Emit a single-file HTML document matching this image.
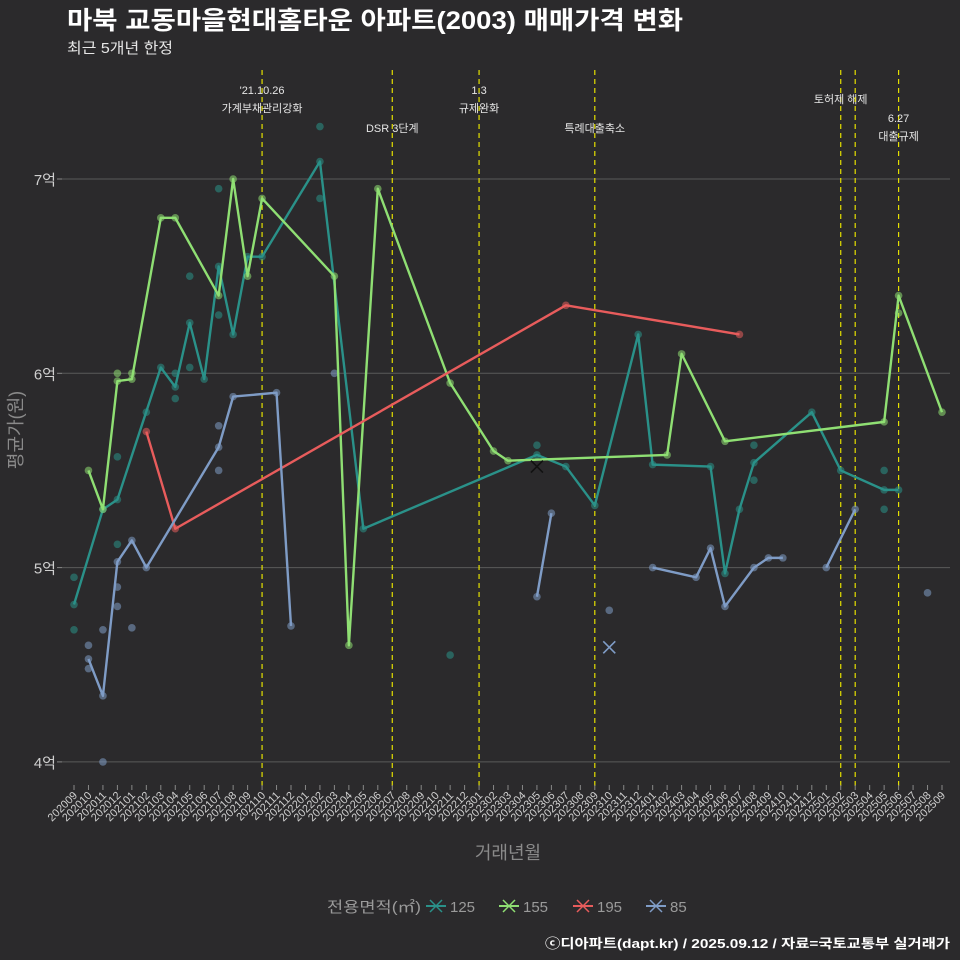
<!DOCTYPE html>
<html><head><meta charset="utf-8">
<style>
body{margin:0;background:#2b2a2c;}
svg{display:block;font-family:"Liberation Sans","Noto Sans CJK KR",sans-serif;}
</style></head>
<body>
<svg id="c" width="960" height="960" viewBox="0 0 960 960">
<rect width="960" height="960" fill="#2b2a2c"/>
<text x="67" y="29" fill="#ffffff" font-size="25" font-weight="bold" textLength="616" lengthAdjust="spacingAndGlyphs">마북 교동마을현대홈타운 아파트(2003) 매매가격 변화</text>
<text x="67" y="53" fill="#e6e6e6" font-size="15" textLength="106" lengthAdjust="spacingAndGlyphs">최근 5개년 한정</text>
<text x="950" y="948" fill="#ffffff" font-size="13" font-weight="bold" text-anchor="end" textLength="405" lengthAdjust="spacingAndGlyphs">ⓒ디아파트(dapt.kr) / 2025.09.12 / 자료=국토교통부 실거래가</text>
<text x="508" y="859" fill="#8a8a8a" font-size="18" text-anchor="middle">거래년월</text>
<text transform="translate(22,430) rotate(-90)" fill="#8a8a8a" font-size="18" text-anchor="middle">평균가(원)</text>
<g id="grid"></g><g id="vl"></g><g id="marks"></g><g id="xt"></g><g id="legend"></g>
</svg>
<script>
const months=[];for(let y=2020,m=9;!(y===2025&&m===10);){months.push(''+y+String(m).padStart(2,'0'));m++;if(m>12){m=1;y++;}}
const yTicks=[4,5,6,7];
const yTickLabels=['4억','5억','6억','7억'];
const s125=[[0,4.81],[2,5.30],[3,5.35],[6,6.03],[7,5.93],[8,6.26],[9,5.97],[10,6.55],[11,6.20],[12,6.60],[13,6.60],[17,7.09],[20,5.20],[32,5.58],[34,5.52],[36,5.32],[39,6.20],[40,5.53],[44,5.52],[45,4.97],[46,5.30],[47,5.54],[51,5.80],[53,5.50],[56,5.40],[57,5.40]];
const d125=[[0,4.95],[0,4.68],[3,5.12],[3,5.57],[5,5.80],[7,5.87],[7,6.0],[8,6.5],[8,6.03],[10,6.95],[10,6.30],[17,6.90],[17,7.27],[26,4.55],[32,5.63],[47,5.63],[47,5.45],[56,5.50],[56,5.30]];
const s155=[[1,5.50],[2,5.30],[3,5.96],[4,5.97],[6,6.80],[7,6.80],[10,6.40],[11,7.0],[12,6.5],[13,6.90],[18,6.5],[19,4.60],[21,6.95],[26,5.95],[29,5.60],[30,5.55],[41,5.58],[42,6.10],[45,5.65],[56,5.75],[57,6.40],[60,5.80]];
const d155=[[3,6.0],[4,6.0],[57,6.31]];
const s195=[[5,5.70],[7,5.20],[34,6.35],[46,6.20]];
const s85a=[[1,4.53],[2,4.34],[3,5.03],[4,5.14],[5,5.0],[10,5.62],[11,5.88],[14,5.90],[15,4.70]];
const s85b=[[32,4.85],[33,5.28]];
const s85c=[[40,5.0],[43,4.95],[44,5.10],[45,4.80],[47,5.0],[48,5.05],[49,5.05]];
const s85d=[[52,5.0],[54,5.30]];
const d85=[[1,4.60],[1,4.48],[2,4.68],[2,4.0],[3,4.90],[3,4.80],[4,4.69],[10,5.5],[10,5.73],[18,6.0],[37,4.78],[59,4.87]];
const xMarks=[[32,5.52,'#111'],[37,4.59,'#7f9cc6']];
const events=[[13,["'21.10.26","가계부채관리강화"],90],[22,["DSR 3단계"],128],[28,["1.3","규제완화"],90],[36,["특례대출축소"],128],[53,["토허제 해제"],99],[54,[],0],[57,["6.27","대출규제"],118]];
const C={125:'#2a9189',155:'#8fdf73',195:'#e85c5c',85:'#7f9cc6'};
const X=i=>74+i*868/60, Y=v=>179+(7-v)*194.3;
const NS='http://www.w3.org/2000/svg';
function el(t,a,p){const e=document.createElementNS(NS,t);for(const k in a)e.setAttribute(k,a[k]);document.getElementById(p).appendChild(e);return e;}
yTicks.forEach((v,k)=>{
 const g=el('line',{x1:62,x2:950,y1:Y(v),y2:Y(v),stroke:'#5a5a5a','stroke-width':1},'grid');
 
 
 const t=el('text',{x:56,y:Y(v)+6,fill:'#cfcfcf','font-size':15,'text-anchor':'end'},'grid');t.textContent=yTickLabels[k];
 
 
 el('line',{x1:57,x2:62,y1:Y(v),y2:Y(v),stroke:'#888'},'grid');
});
events.forEach(e=>{
 const l=el('line',{x1:X(e[0]),x2:X(e[0]),y1:70,y2:790,stroke:'#e5e000','stroke-width':1.2,'stroke-dasharray':'5,4'},'vl');
 
 
 e[1].forEach((s,j)=>{const t=el('text',{x:X(e[0]),y:e[2]+4+j*18,fill:'#e6e6e6','font-size':11,'text-anchor':'middle'},'vl');t.textContent=s;
 
 });
});
function dots(arr,col,nm){arr.forEach(p=>{const c=el('circle',{cx:X(p[0]),cy:Y(p[1]),r:3.8,fill:col,opacity:0.55},'marks');
 
 });}
function line(arr,col,nm){const l=el('polyline',{points:arr.map(p=>X(p[0])+','+Y(p[1])).join(' '),fill:'none',stroke:col,'stroke-width':2.4,'stroke-linejoin':'round'},'marks');
 
 
 dots(arr,col,nm+'-point');}
dots(d125,C[125],'dot-125');dots(d155,C[155],'dot-155');dots(d85,C[85],'dot-85');
line(s125,C[125],'line-125');line(s155,C[155],'line-155');line(s195,C[195],'line-195');
[s85a,s85b,s85c,s85d].forEach(s=>line(s,C[85],'line-85'));
xMarks.forEach(m=>{const x=X(m[0]),y=Y(m[1]);
 const p=el('path',{d:`M${x-6},${y-6}L${x+6},${y+6}M${x-6},${y+6}L${x+6},${y-6}`,stroke:m[2],'stroke-width':1.6},'marks');
 
 });
months.forEach((m,i)=>{
 el('line',{x1:X(i),x2:X(i),y1:785,y2:790,stroke:'#888'},'xt');
 const t=el('text',{transform:`translate(${X(i)+4},${796}) rotate(-45)`,fill:'#cfcfcf','font-size':11,'text-anchor':'end'},'xt');t.textContent=m;
 
 
});
const lt=el('text',{x:421,y:912,fill:'#9a9a9a','font-size':15,'text-anchor':'end',textLength:94,lengthAdjust:'spacingAndGlyphs'},'legend');lt.textContent='전용면적(㎡)';


const legKeys=['125','155','195','85'];const legX=[426,499,573,646];
legKeys.forEach((k,j)=>{const x=legX[j];
 const g=el('g',{},'legend');
 
 
 const a=document.createElementNS(NS,'line');a.setAttribute('x1',x);a.setAttribute('x2',x+20);a.setAttribute('y1',906);a.setAttribute('y2',906);a.setAttribute('stroke',C[k]);a.setAttribute('stroke-width',2);g.appendChild(a);
 const b=document.createElementNS(NS,'path');b.setAttribute('d',`M${x+4},${900}L${x+16},${912}M${x+4},${912}L${x+16},${900}`);b.setAttribute('stroke',C[k]);b.setAttribute('stroke-width',1.5);g.appendChild(b);
 const t=document.createElementNS(NS,'text');t.setAttribute('x',x+24);t.setAttribute('y',912);t.setAttribute('fill','#9a9a9a');t.setAttribute('font-size',15);t.textContent=k;g.appendChild(t);
});
</script>
</body></html>
